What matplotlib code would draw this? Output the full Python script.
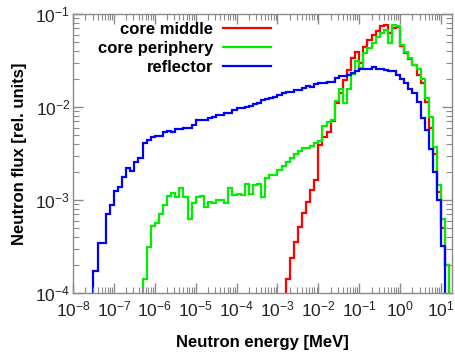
import numpy as np
import matplotlib
matplotlib.use("Agg")
import matplotlib.pyplot as plt
from matplotlib.ticker import LogLocator, NullFormatter

plt.rcParams['font.family'] = ['Liberation Sans', 'DejaVu Sans']
plt.rcParams['mathtext.fontset'] = 'custom'
plt.rcParams['mathtext.rm'] = 'Liberation Sans'
plt.rcParams['mathtext.it'] = 'Liberation Sans:italic'
plt.rcParams['mathtext.bf'] = 'Liberation Sans:bold'

# Energy bin edges (MeV), 10 bins per decade from 1e-8 to 10^1.3
log_edges = np.round(np.arange(-8.0, 1.301, 0.1), 1)
energy_edges = 10.0 ** log_edges

# Flux per bin (None = below 1e-4, off the plot)
core_middle = [None] * 52 + [
    1.41e-4, 2.4e-4, 3.55e-4, 5.1e-4, 7.2e-4, 9.5e-4, 1.29e-3, 1.66e-3,
    3.9e-3, 4.8e-3, 5.4e-3, 7.1e-3, 1.10e-2, 1.40e-2, 1.95e-2, 2.5e-2,
    3.4e-2, 3.9e-2, 2.95e-2, 4.47e-2, 5.25e-2, 6.0e-2, 6.6e-2, 7.4e-2,
    7.6e-2, 6.2e-2, 7.0e-2, 7.2e-2, 4.5e-2, 3.8e-2, 3.3e-2, 2.8e-2,
    2.2e-2, 1.82e-2, 1.12e-2, 5.9e-3, 3.16e-3, 1.23e-3, 5.0e-4, 2.0e-4,
] + [None]

core_periphery = [None] * 17 + [
    1.40e-4, 3.16e-4, 5.3e-4, 5.6e-4, 7.1e-4, 8.8e-4, 1.10e-3, 1.20e-3,
    1.07e-3, 1.36e-3, 1.07e-3, 6.2e-4, 9.3e-4, 1.07e-3, 1.10e-3, 8.5e-4,
    9.5e-4, 9.3e-4, 1.0e-3, 1.0e-3, 9.2e-4, 1.33e-3, 1.13e-3, 1.17e-3,
    1.13e-3, 1.48e-3, 1.17e-3, 1.45e-3, 1.48e-3, 1.07e-3, 1.71e-3, 1.86e-3,
    1.86e-3, 2.10e-3, 2.32e-3, 2.58e-3, 2.82e-3, 3.13e-3, 3.39e-3, 3.6e-3,
    3.63e-3, 3.8e-3, 4.14e-3, 4.27e-3, 6.2e-3, 6.9e-3, 7.2e-3, 1.15e-2,
    1.58e-2, 1.10e-2, 1.58e-2, 2.29e-2, 3.16e-2, 2.61e-2, 3.8e-2, 4.27e-2,
    4.84e-2, 5.6e-2, 6.2e-2, 6.8e-2, 4.84e-2, 7.6e-2, 7.4e-2, 4.68e-2,
    3.94e-2, 3.34e-2, 2.83e-2, 2.54e-2, 2.0e-2, 1.26e-2, 7.9e-3, 3.74e-3,
    1.45e-3, 6.3e-4, 2.0e-4,
] + [None]

reflector = [None] * 5 + [
    1.74e-4, 3.42e-4, 3.42e-4, 7.0e-4, 8.8e-4, 1.26e-3, 1.39e-3, 1.78e-3,
    2.19e-3, 2.05e-3, 2.58e-3, 2.82e-3, 4.13e-3, 4.37e-3, 4.72e-3, 4.9e-3,
    4.9e-3, 5.43e-3, 5.56e-3, 5.43e-3, 5.75e-3, 5.75e-3, 5.89e-3, 5.89e-3,
    6.46e-3, 7.24e-3, 7.24e-3, 7.24e-3, 7.59e-3, 7.76e-3, 8.13e-3, 8.2e-3,
    8.71e-3, 8.71e-3, 9.33e-3, 9.68e-3, 9.68e-3, 1.007e-2, 1.02e-2, 1.08e-2,
    1.10e-2, 1.175e-2, 1.22e-2, 1.24e-2, 1.29e-2, 1.35e-2, 1.40e-2, 1.46e-2,
    1.45e-2, 1.52e-2, 1.51e-2, 1.62e-2, 1.68e-2, 1.66e-2, 1.78e-2, 1.80e-2,
    1.80e-2, 1.85e-2, 1.87e-2, 2.04e-2, 2.15e-2, 2.15e-2, 2.21e-2, 2.34e-2,
    2.44e-2, 2.54e-2, 2.54e-2, 2.58e-2, 2.67e-2, 2.58e-2, 2.54e-2, 2.50e-2,
    2.45e-2, 2.45e-2, 2.21e-2, 2.0e-2, 1.83e-2, 1.58e-2, 1.40e-2, 1.12e-2,
    7.6e-3, 5.6e-3, 3.55e-3, 2.0e-3, 1.0e-3, 3.2e-4,
] + [None] * 2

series_labels = ["core middle", "core periphery", "reflector"]
series_colors = ["#ff0000", "#00ee00", "#0000ff"]

fig = plt.figure(figsize=(4.55, 3.56), dpi=100)
ax = fig.add_axes([73 / 455, 1 - 293 / 356, (452 - 73) / 455, (293 - 14) / 356])

floor = 1e-7
for vals, color, label in zip([core_middle, core_periphery, reflector],
                              series_colors, series_labels):
    v = np.array([floor if x is None else x for x in vals], dtype=float)
    ax.stairs(v, energy_edges, baseline=None, color=color, lw=1.6, label=label)

ax.set_xscale('log')
ax.set_yscale('log')
ax.set_xlim(1e-8, 18.5)
ax.set_ylim(1e-4, 1e-1)

ax.xaxis.set_major_locator(LogLocator(base=10, numticks=20))
ax.xaxis.set_minor_locator(LogLocator(base=10, subs=np.arange(2, 10), numticks=20))
ax.xaxis.set_minor_formatter(NullFormatter())
ax.yaxis.set_major_locator(LogLocator(base=10, numticks=20))
ax.yaxis.set_minor_locator(LogLocator(base=10, subs=np.arange(2, 10), numticks=20))
ax.yaxis.set_minor_formatter(NullFormatter())

gray = "#8a8a8a"
for s in ax.spines.values():
    s.set_color(gray)
    s.set_linewidth(1.0)
ax.tick_params(which='both', direction='in', top=True, right=True, color=gray,
               labelsize=12.5, labelcolor='#222222')
ax.tick_params(which='major', length=7, width=1.0)
ax.tick_params(which='minor', length=4, width=0.8)
ax.tick_params(axis='x', which='major', pad=5)
ax.tick_params(axis='y', which='major', pad=2)

ax.set_xlabel("Neutron energy [MeV]", fontsize=12, fontweight='bold', labelpad=11)
ax.set_ylabel("Neutron flux [rel. units]", fontsize=12, fontweight='bold', labelpad=6)

leg = ax.legend(loc='upper right', bbox_to_anchor=(271 / 455, 1 - 22 / 356),
                bbox_transform=fig.transFigure, frameon=False, markerfirst=False,
                handlelength=2.9, handletextpad=0.55, labelspacing=0.24,
                borderpad=0, borderaxespad=0,
                prop={'weight': 'bold', 'size': 12})

fig.savefig("out.png", dpi=100, facecolor='white')
